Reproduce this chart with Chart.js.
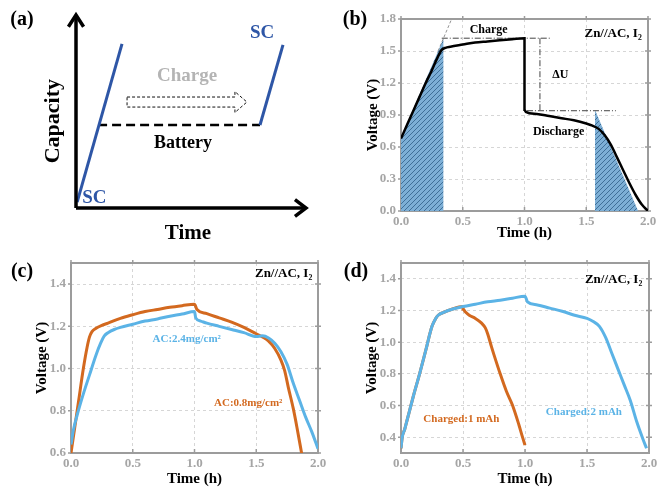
<!DOCTYPE html>
<html>
<head>
<meta charset="utf-8">
<script src="https://cdn.jsdelivr.net/npm/chart.js@4.4.1/dist/chart.umd.min.js"></script>
<style>
  body { margin: 0; background: #fff; }
  #page { position: relative; width: 657px; height: 487px; overflow: hidden; }
  canvas { position: absolute; }
</style>
</head>
<body>
<div id="page">
  <canvas id="panelA" width="330" height="243" style="left:0;top:0"></canvas>
  <canvas id="panelB" width="327" height="243" style="left:330px;top:0"></canvas>
  <canvas id="panelC" width="330" height="244" style="left:0;top:243px"></canvas>
  <canvas id="panelD" width="327" height="244" style="left:330px;top:243px"></canvas>
</div>
<script>
// ---- data ----

// (a) schematic, arbitrary units (time 0..10, capacity 0..10)
const scFirstX = [0.05, 2.0];
const scFirstY = [0.3, 8.5];
const scSecondX = [8.0, 9.0];
const scSecondY = [4.3, 8.45];
const batteryX = [0.96, 8.0];
const batteryY = [4.3, 4.3];
const chargeArrowX = [2.22, 6.91, 6.91, 7.43, 6.91, 6.91, 2.22, 2.22];
const chargeArrowY = [5.75, 5.75, 6.03, 5.49, 4.95, 5.23, 5.23, 5.75];

// shared time axis ticks (h)
const timeTicks = [0, 0.5, 1.0, 1.5, 2.0];

// (b) Zn//AC, I2 charge/discharge
const bTime = [0, 0.05, 0.1, 0.15, 0.2, 0.25, 0.3, 0.33, 0.36, 0.4, 0.5, 0.6, 0.7, 0.8, 0.9, 1.0,
  1.0, 1.01, 1.1, 1.2, 1.3, 1.4, 1.5, 1.55, 1.6, 1.65, 1.7, 1.75, 1.8, 1.85, 1.9, 1.95, 2.0];
const bVolt = [0.68, 0.81, 0.94, 1.07, 1.2, 1.32, 1.45, 1.51, 1.53, 1.54, 1.56, 1.58, 1.59, 1.6, 1.61, 1.62,
  0.95, 0.93, 0.91, 0.89, 0.87, 0.85, 0.82, 0.8, 0.77, 0.71, 0.62, 0.5, 0.38, 0.26, 0.15, 0.06, 0.0];
const bChargeAreaX = [0, 0.345];
const bChargeAreaY = [0.69, 1.62];
const bDischargeAreaX = [1.57, 1.92];
const bDischargeAreaY = [0.95, 0.0];
const bTangentX = [0.3, 0.41];
const bTangentY = [1.5, 1.8];
const bYTicks = [0, 0.3, 0.6, 0.9, 1.2, 1.5, 1.8];

// (c) two AC loadings
const cOrangeTime = [0, 0.03, 0.06, 0.1, 0.13, 0.15, 0.17, 0.2, 0.25, 0.3, 0.4, 0.5, 0.6, 0.7, 0.8, 0.9, 1.0,
  1.02, 1.1, 1.2, 1.3, 1.4, 1.5, 1.55, 1.6, 1.65, 1.7, 1.73, 1.76, 1.8, 1.83, 1.87];
const cOrangeVolt = [0.6, 0.72, 0.84, 1.0, 1.1, 1.15, 1.175, 1.19, 1.205, 1.215, 1.238, 1.255, 1.27, 1.28, 1.29, 1.298, 1.305,
  1.28, 1.26, 1.24, 1.22, 1.195, 1.165, 1.15, 1.13, 1.095, 1.04, 0.99, 0.91, 0.81, 0.72, 0.59];
const cBlueTime = [0, 0.02, 0.05, 0.1, 0.15, 0.2, 0.24, 0.27, 0.3, 0.35, 0.4, 0.5, 0.6, 0.7, 0.8, 0.9, 1.0,
  1.01, 1.05, 1.1, 1.2, 1.3, 1.4, 1.5, 1.55, 1.6, 1.65, 1.7, 1.75, 1.8, 1.85, 1.9, 1.95, 2.0];
const cBlueVolt = [0.64, 0.71, 0.78, 0.88, 0.97, 1.06, 1.12, 1.155, 1.17, 1.185, 1.195, 1.21, 1.225, 1.235, 1.248, 1.258, 1.27,
  1.24, 1.225, 1.215, 1.2, 1.185, 1.17, 1.152, 1.155, 1.145, 1.12, 1.08, 1.02, 0.93, 0.85, 0.77, 0.7, 0.62];
const cYTicks = [0.6, 0.8, 1.0, 1.2, 1.4];

// (d) charged capacity 1 vs 2 mAh
const dBlueTime = [0, 0.01, 0.03, 0.05, 0.1, 0.15, 0.2, 0.25, 0.28, 0.3, 0.35, 0.4, 0.5, 0.6, 0.7, 0.8, 0.9, 1.0,
  1.02, 1.1, 1.2, 1.3, 1.4, 1.5, 1.55, 1.6, 1.65, 1.7, 1.75, 1.8, 1.85, 1.9, 1.95, 1.98];
const dBlueVolt = [0.33, 0.4, 0.45, 0.51, 0.66, 0.8, 0.95, 1.1, 1.15, 1.17, 1.19, 1.205, 1.225, 1.24, 1.255, 1.265, 1.278, 1.29,
  1.255, 1.235, 1.215, 1.195, 1.17, 1.15, 1.13, 1.1, 1.03, 0.93, 0.83, 0.73, 0.63, 0.5, 0.39, 0.33];
const dOrangeTime = [0, 0.01, 0.03, 0.05, 0.1, 0.15, 0.2, 0.25, 0.28, 0.3, 0.35, 0.4, 0.5,
  0.5, 0.52, 0.55, 0.6, 0.65, 0.68, 0.7, 0.73, 0.75, 0.8, 0.85, 0.9, 0.95, 0.98, 1.0];
const dOrangeVolt = [0.33, 0.4, 0.45, 0.51, 0.66, 0.8, 0.95, 1.1, 1.15, 1.17, 1.19, 1.205, 1.225,
  1.21, 1.19, 1.17, 1.15, 1.12, 1.09, 1.05, 0.97, 0.92, 0.8, 0.69, 0.6, 0.48, 0.4, 0.35];
const dYTicks = [0.4, 0.6, 0.8, 1.0, 1.2, 1.4];

// ---- helpers ----
const ORANGE = '#d3691f';
const BLUE = '#5bb3e6';
const SERIF = '"Liberation Serif", "Times New Roman", serif';
const pts = (xs, ys) => xs.map((x, i) => ({ x: x, y: ys[i] }));

function hatchPattern() {
  const c = document.createElement('canvas');
  c.width = 5; c.height = 5;
  const g = c.getContext('2d');
  g.fillStyle = '#7dafd6';
  g.fillRect(0, 0, 5, 5);
  g.strokeStyle = '#3f6f98';
  g.lineWidth = 1;
  g.beginPath();
  g.moveTo(0, 5); g.lineTo(5, 0);
  g.moveTo(-1, 1); g.lineTo(1, -1);
  g.moveTo(4, 6); g.lineTo(6, 4);
  g.stroke();
  return g.createPattern(c, 'repeat');
}

// box round the plot plus short ticks
const frame = {
  id: 'frame',
  beforeDatasetsDraw(chart, args, opts) {
    if (!opts.show) return;
    const { ctx, chartArea: a, scales } = chart;
    ctx.save();
    ctx.strokeStyle = '#9c9c9c';
    ctx.lineWidth = 1.5;
    ctx.beginPath();
    scales.y.ticks.forEach(t => {
      const py = scales.y.getPixelForValue(t.value);
      ctx.moveTo(a.left - 3, py); ctx.lineTo(a.left, py);
      ctx.moveTo(a.right - 3, py); ctx.lineTo(a.right + 3, py);
    });
    scales.x.ticks.forEach(t => {
      const px = scales.x.getPixelForValue(t.value);
      ctx.moveTo(px, a.bottom); ctx.lineTo(px, a.bottom - 4);
      ctx.moveTo(px, a.top - 3); ctx.lineTo(px, a.top);
    });
    ctx.stroke();
    ctx.lineWidth = 2;
    ctx.strokeRect(a.left, a.top, a.right - a.left, a.bottom - a.top);
    ctx.restore();
  }
};

// text placed in data units (or pixels when px/py given)
const notes = {
  id: 'notes',
  afterDatasetsDraw(chart, args, opts) {
    const { ctx, scales } = chart;
    (opts.items || []).forEach(n => {
      const px = n.px !== undefined ? n.px : scales.x.getPixelForValue(n.x);
      const py = n.py !== undefined ? n.py : scales.y.getPixelForValue(n.y);
      ctx.save();
      ctx.font = n.font;
      ctx.fillStyle = n.color || '#000';
      ctx.textAlign = n.align || 'center';
      ctx.textBaseline = 'middle';
      ctx.translate(px, py);
      if (n.rotate) ctx.rotate(n.rotate);
      ctx.fillText(n.text, 0, 0);
      ctx.restore();
    });
  }
};

Chart.register(frame, notes);

function voltageChart(id, cfg) {
  const tickFont = { family: SERIF, size: 13, weight: 'bold' };
  const titleFont = { family: SERIF, size: 15, weight: 'bold', lineHeight: 1 };
  const grid = { color: '#d6d6d6', lineWidth: 1, drawTicks: false };
  const border = { display: false, dash: [3, 3] };
  return new Chart(document.getElementById(id), {
    type: 'line',
    data: { datasets: cfg.datasets },
    options: {
      responsive: false,
      animation: false,
      devicePixelRatio: 1,
      layout: { padding: { left: 0, top: cfg.top, right: cfg.right, bottom: 0 } },
      elements: { point: { radius: 0 }, line: { tension: 0 } },
      plugins: {
        legend: { display: false },
        tooltip: { enabled: false },
        frame: { show: true },
        notes: { items: cfg.notes }
      },
      scales: {
        x: {
          type: 'linear', min: 0, max: 2,
          afterBuildTicks: s => { s.ticks = timeTicks.map(v => ({ value: v })); },
          afterFit: s => { s.height = cfg.xHeight; s.paddingLeft = 0; s.paddingRight = 0; },
          ticks: { font: tickFont, color: '#a5a5a5', padding: 3, maxRotation: 0, callback: v => v.toFixed(1) },
          grid: grid, border: border,
          title: { display: true, text: 'Time (h)', font: titleFont, color: '#000', padding: { top: 0, bottom: cfg.xTitlePad } }
        },
        y: {
          type: 'linear', min: cfg.yMin, max: cfg.yMax,
          afterBuildTicks: s => { s.ticks = cfg.yTicks.map(v => ({ value: v })); },
          afterFit: s => { s.width = 71; s.paddingTop = 0; s.paddingBottom = 0; },
          ticks: { font: tickFont, color: '#a5a5a5', padding: 5, callback: v => v.toFixed(1) },
          grid: grid, border: border,
          title: { display: true, text: 'Voltage (V)', font: titleFont, color: '#000', padding: { top: cfg.yTitlePad, bottom: 0 } }
        }
      }
    }
  });
}

// ---- (a) schematic ----
const lineA = (xs, ys, color, width, dash) => ({
  data: pts(xs, ys), borderColor: color, borderWidth: width, borderDash: dash || [],
  pointRadius: 0, fill: false, clip: false, borderCapStyle: 'butt'
});
new Chart(document.getElementById('panelA'), {
  type: 'line',
  data: {
    datasets: [
      lineA([0, 0], [0, 10], '#000', 3.5),
      lineA([0, 10], [0, 0], '#000', 3.5),
      lineA([-0.33, 0, 0.33], [9.39, 10, 9.39], '#000', 3.5),
      lineA([9.52, 10, 9.52], [0.43, 0, -0.43], '#000', 3.5),
      lineA(scFirstX, scFirstY, '#2e56a6', 3),
      lineA(scSecondX, scSecondY, '#2e56a6', 3),
      lineA(batteryX, batteryY, '#000', 2.5, [9, 5]),
      lineA(chargeArrowX, chargeArrowY, '#111', 1, [3, 2])
    ]
  },
  options: {
    responsive: false,
    animation: false,
    devicePixelRatio: 1,
    layout: { padding: { left: 76, top: 15, right: 24, bottom: 35 } },
    plugins: {
      legend: { display: false },
      tooltip: { enabled: false },
      frame: { show: false },
      notes: {
        items: [
          { text: '(a)', px: 22, py: 20, font: 'bold 20px ' + SERIF },
          { text: 'Capacity', x: -1.0, y: 4.5, rotate: -Math.PI / 2, font: 'bold 22px ' + SERIF },
          { text: 'Time', x: 4.87, y: -1.3, font: 'bold 21px ' + SERIF },
          { text: 'Charge', x: 4.83, y: 6.84, color: '#b4b4b4', font: 'bold 19px ' + SERIF },
          { text: 'Battery', x: 4.65, y: 3.37, font: 'bold 18px ' + SERIF },
          { text: 'SC', x: 0.8, y: 0.52, color: '#2e56a6', font: 'bold 19px ' + SERIF },
          { text: 'SC', x: 8.09, y: 9.07, color: '#2e56a6', font: 'bold 19px ' + SERIF }
        ]
      }
    },
    scales: {
      x: { type: 'linear', min: 0, max: 10, display: false },
      y: { type: 'linear', min: 0, max: 10, display: false }
    }
  }
});

// ---- (b) ----
const hatch = hatchPattern();
const dashDot = [6, 2, 1, 2];
const refLine = (xs, ys) => ({ data: pts(xs, ys), borderColor: '#444', borderWidth: 1, borderDash: dashDot, fill: false });
voltageChart('panelB', {
  top: 19, right: 9, xHeight: 32, xTitlePad: 2.5, yTitlePad: 36,
  yMin: 0, yMax: 1.8, yTicks: bYTicks,
  datasets: [
    { data: pts(bTime, bVolt), borderColor: '#000', borderWidth: 2.5, fill: false, cubicInterpolationMode: 'monotone' },
    refLine([0.33, 1.22], [1.62, 1.62]),
    refLine([1.02, 1.74], [0.94, 0.94]),
    refLine([1.125, 1.125], [1.62, 0.94]),
    { data: pts(bTangentX, bTangentY), borderColor: '#777', borderWidth: 0.8, borderDash: [3, 2], fill: false },
    { data: pts(bChargeAreaX, bChargeAreaY), borderWidth: 0, borderColor: 'rgba(0,0,0,0)', backgroundColor: hatch, fill: 'origin' },
    { data: pts(bDischargeAreaX, bDischargeAreaY), borderWidth: 0, borderColor: 'rgba(0,0,0,0)', backgroundColor: hatch, fill: 'origin' }
  ],
  notes: [
    { text: '(b)', px: 25, py: 20, font: 'bold 20px ' + SERIF },
    { text: 'Charge', x: 0.71, y: 1.7, font: 'bold 12px ' + SERIF },
    { text: 'ΔU', x: 1.29, y: 1.275, font: 'bold 12px ' + SERIF },
    { text: 'Discharge', x: 1.276, y: 0.744, font: 'bold 12px ' + SERIF },
    { text: 'Zn//AC, I₂', x: 1.95, y: 1.666, align: 'right', font: 'bold 13px ' + SERIF }
  ]
});

// ---- (c) ----
voltageChart('panelC', {
  top: 20, right: 12, xHeight: 34, xTitlePad: 0, yTitlePad: 34.5,
  yMin: 0.6, yMax: 1.5, yTicks: cYTicks,
  datasets: [
    { data: pts(cBlueTime, cBlueVolt), borderColor: BLUE, borderWidth: 3, fill: false, cubicInterpolationMode: 'monotone' },
    { data: pts(cOrangeTime, cOrangeVolt), borderColor: ORANGE, borderWidth: 3, fill: false, cubicInterpolationMode: 'monotone' }
  ],
  notes: [
    { text: '(c)', px: 22, py: 29, font: 'bold 20px ' + SERIF },
    { text: 'AC:2.4mg/cm²', x: 0.937, y: 1.139, color: BLUE, font: 'bold 11px ' + SERIF },
    { text: 'AC:0.8mg/cm²', x: 1.435, y: 0.836, color: ORANGE, font: 'bold 11px ' + SERIF },
    { text: 'Zn//AC, I₂', x: 1.954, y: 1.45, align: 'right', font: 'bold 13px ' + SERIF }
  ]
});

// ---- (d) ----
voltageChart('panelD', {
  top: 20, right: 8, xHeight: 34, xTitlePad: 0, yTitlePad: 34.5,
  yMin: 0.3, yMax: 1.5, yTicks: dYTicks,
  datasets: [
    { data: pts(dBlueTime, dBlueVolt), borderColor: BLUE, borderWidth: 3, fill: false, cubicInterpolationMode: 'monotone' },
    { data: pts(dOrangeTime, dOrangeVolt), borderColor: ORANGE, borderWidth: 3, fill: false, cubicInterpolationMode: 'monotone' }
  ],
  notes: [
    { text: '(d)', px: 26, py: 29, font: 'bold 20px ' + SERIF },
    { text: 'Charged:1 mAh', x: 0.487, y: 0.5125, color: ORANGE, font: 'bold 11px ' + SERIF },
    { text: 'Charged:2 mAh', x: 1.475, y: 0.56, color: BLUE, font: 'bold 11px ' + SERIF },
    { text: 'Zn//AC, I₂', x: 1.946, y: 1.394, align: 'right', font: 'bold 13px ' + SERIF }
  ]
});
</script>
</body>
</html>
